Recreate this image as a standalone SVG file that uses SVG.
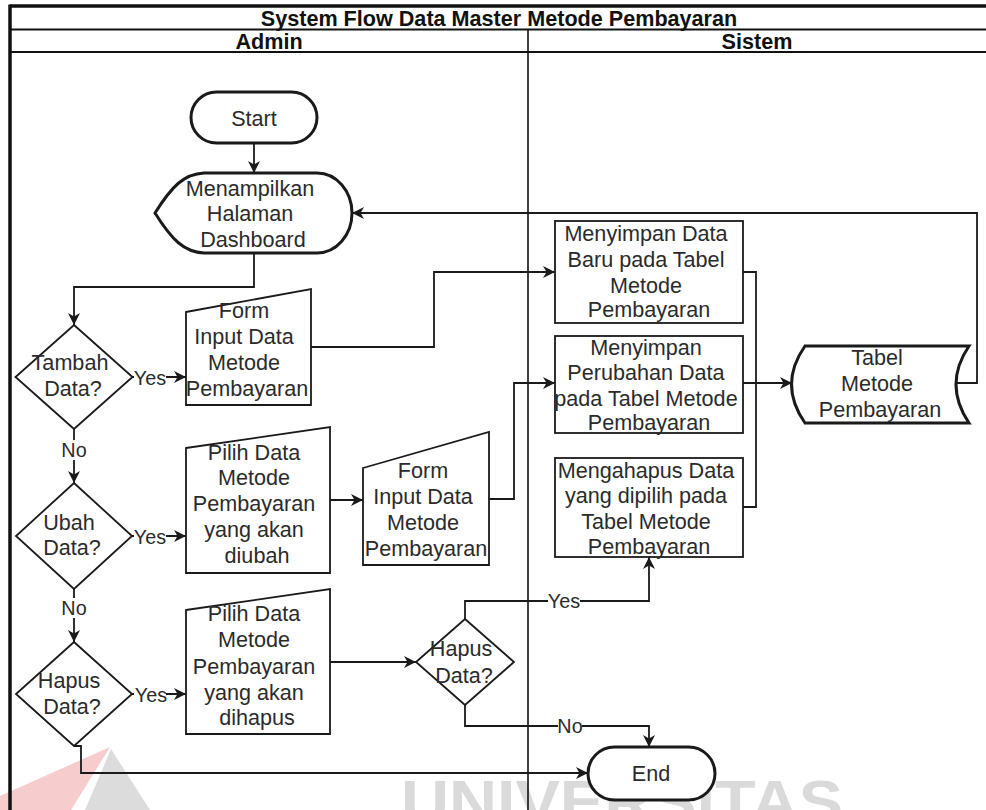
<svg xmlns="http://www.w3.org/2000/svg" width="986" height="810" viewBox="0 0 986 810">
  <defs>
    <style>
      .t { font-family: "Liberation Sans", Arial, sans-serif; font-size: 21.6px; fill: #2b2b2b; text-anchor: middle; }
      .h { font-weight: bold; fill: #111; }
      .lbl { font-size: 19.8px; }
      .sh { fill: #fff; stroke: #1a1a1a; stroke-width: 1.8; }
      .thick { stroke-width: 3; }
      .edge { fill: none; stroke: #1a1a1a; stroke-width: 1.8; }
      .frame { fill: none; stroke: #111; }
      .wm { font-family: "Liberation Sans", Arial, sans-serif; font-weight: bold; font-size: 62px; fill: #dadada; }
    </style>
    <marker id="arrow" markerUnits="userSpaceOnUse" markerWidth="13" markerHeight="12" refX="12" refY="6" orient="auto">
      <path d="M0,0 L12,6 L0,12 L3.5,6 Z" fill="#1a1a1a"/>
    </marker>
  </defs>

  <rect x="0" y="0" width="986" height="810" fill="#fff"/>

  <!-- background watermark -->
  <g id="watermark">
    <polygon points="0,796 110,747 71,810 0,810" fill="#f7cccc"/>
    <polygon points="111,749 150,810 85,810" fill="#dcdcdc"/>
    <text class="wm" x="401" y="823" textLength="442" lengthAdjust="spacingAndGlyphs">UNIVERSITAS</text>
  </g>

  <!-- pool frame with title and lane headers -->
  <g id="pool">
    <line class="frame" x1="10" y1="6" x2="990" y2="6" stroke-width="3.5"/>
    <line class="frame" x1="10" y1="4.5" x2="10" y2="810" stroke-width="3.5"/>
    <line class="frame" x1="10" y1="29.5" x2="990" y2="29.5" stroke-width="2"/>
    <line class="frame" x1="10" y1="52" x2="990" y2="52" stroke-width="2"/>
    <line class="frame" x1="528" y1="29.5" x2="528" y2="810" stroke-width="1.6"/>
    <text class="t h" x="499" y="25.5">System Flow Data Master Metode Pembayaran</text>
    <text class="t h" x="269" y="48.5">Admin</text>
    <text class="t h" x="757" y="48.5">Sistem</text>
  </g>

  <!-- connectors -->
  <g id="connectors">
    <path class="edge" d="M254,143 L254,173" marker-end="url(#arrow)"/>
    <path class="edge" d="M254,253 L254,287 L74,287 L74,325" marker-end="url(#arrow)"/>
    <path class="edge" d="M132.5,377 L186,377" marker-end="url(#arrow)"/>
    <path class="edge" d="M311,347 L434,347 L434,272 L555,272" marker-end="url(#arrow)"/>
    <path class="edge" d="M74,429 L74,483" marker-end="url(#arrow)"/>
    <path class="edge" d="M132,536 L186,536" marker-end="url(#arrow)"/>
    <path class="edge" d="M330,500 L363,500" marker-end="url(#arrow)"/>
    <path class="edge" d="M489,499 L514,499 L514,383 L555,383" marker-end="url(#arrow)"/>
    <path class="edge" d="M74,589 L74,642" marker-end="url(#arrow)"/>
    <path class="edge" d="M132,694 L186,694" marker-end="url(#arrow)"/>
    <path class="edge" d="M330,662 L416,662" marker-end="url(#arrow)"/>
    <path class="edge" d="M465,619 L465,601 L649,601 L649,557" marker-end="url(#arrow)"/>
    <path class="edge" d="M465,705 L465,726 L649,726 L649,747" marker-end="url(#arrow)"/>
    <path class="edge" d="M74,746 L81,746 L81,773 L588,773" marker-end="url(#arrow)"/>
    <path class="edge" d="M743,272 L756,272 L756,383"/>
    <path class="edge" d="M743,507 L756,507 L756,383"/>
    <path class="edge" d="M743,383 L792,383" stroke-width="2.4" marker-end="url(#arrow)"/>
    <path class="edge" d="M957,383 L977,383 L977,213 L352,213" marker-end="url(#arrow)"/>

    <!-- edge labels -->
    <rect x="134" y="367" width="32" height="20" fill="#fff"/>
    <text class="t lbl" x="150" y="384.5">Yes</text>
    <rect x="62" y="440" width="24" height="20" fill="#fff"/>
    <text class="t lbl" x="74" y="457">No</text>
    <rect x="134" y="527" width="32" height="20" fill="#fff"/>
    <text class="t lbl" x="150" y="543.5">Yes</text>
    <rect x="62" y="598" width="24" height="20" fill="#fff"/>
    <text class="t lbl" x="74" y="615">No</text>
    <rect x="134" y="685" width="32" height="20" fill="#fff"/>
    <text class="t lbl" x="151" y="702">Yes</text>
    <rect x="548" y="591" width="32" height="20" fill="#fff"/>
    <text class="t lbl" x="564" y="608">Yes</text>
    <rect x="558" y="716" width="24" height="20" fill="#fff"/>
    <text class="t lbl" x="570" y="733">No</text>
  </g>

  <!-- nodes -->
  <g id="start">
    <rect class="sh thick" x="191" y="92" width="126" height="51" rx="25.5"/>
    <text class="t" x="254" y="125.5">Start</text>
  </g>

  <g id="tampil-dashboard">
    <path class="sh thick" d="M155,213 C172,186 184,174 204,173 L317,173 A35,40 0 0 1 317,253 L204,253 C184,252 172,240 155,213 Z"/>
    <text class="t">
      <tspan x="253" y="195.5">Menampilkan</tspan>
      <tspan x="253" y="221">Halaman</tspan>
      <tspan x="253" y="246.5">Dashboard</tspan>
    </text>
  </g>

  <g id="tambah-data">
    <polygon class="sh" points="74,325 132.5,377 74,429 15.5,377"/>
    <text class="t">
      <tspan x="73" y="369.5">Tambah</tspan>
      <tspan x="73" y="395.5">Data?</tspan>
    </text>
  </g>

  <g id="form-tambah">
    <polygon class="sh" points="186,312 311,289 311,405 186,405"/>
    <text class="t">
      <tspan x="247" y="317.5">Form</tspan>
      <tspan x="247" y="343.5">Input Data</tspan>
      <tspan x="247" y="369.5">Metode</tspan>
      <tspan x="247" y="395.5">Pembayaran</tspan>
    </text>
  </g>

  <g id="ubah-data">
    <polygon class="sh" points="74,483 132,536 74,589 16,536"/>
    <text class="t">
      <tspan x="72" y="529.5">Ubah</tspan>
      <tspan x="72" y="554.5">Data?</tspan>
    </text>
  </g>

  <g id="pilih-ubah">
    <polygon class="sh" points="186,448 330,427 330,573 186,573"/>
    <text class="t">
      <tspan x="257" y="459.5">Pilih Data</tspan>
      <tspan x="257" y="484.5">Metode</tspan>
      <tspan x="257" y="511">Pembayaran</tspan>
      <tspan x="257" y="537">yang akan</tspan>
      <tspan x="257" y="562.5">diubah</tspan>
    </text>
  </g>

  <g id="form-ubah">
    <polygon class="sh" points="363,468 489,432 489,565 363,565"/>
    <text class="t">
      <tspan x="426" y="477.5">Form</tspan>
      <tspan x="426" y="504">Input Data</tspan>
      <tspan x="426" y="529.5">Metode</tspan>
      <tspan x="426" y="555.5">Pembayaran</tspan>
    </text>
  </g>

  <g id="hapus-data">
    <polygon class="sh" points="74,642 132,694 74,746 16,694"/>
    <text class="t">
      <tspan x="72" y="687.5">Hapus</tspan>
      <tspan x="72" y="714">Data?</tspan>
    </text>
  </g>

  <g id="pilih-hapus">
    <polygon class="sh" points="186,610 330,589 330,734 186,734"/>
    <text class="t">
      <tspan x="257" y="621">Pilih Data</tspan>
      <tspan x="257" y="646.5">Metode</tspan>
      <tspan x="257" y="673.5">Pembayaran</tspan>
      <tspan x="257" y="699.5">yang akan</tspan>
      <tspan x="257" y="724.5">dihapus</tspan>
    </text>
  </g>

  <g id="konfirmasi-hapus">
    <polygon class="sh" points="465,619 514,662 465,705 416,662"/>
    <text class="t">
      <tspan x="464" y="656">Hapus</tspan>
      <tspan x="464" y="682.5">Data?</tspan>
    </text>
  </g>

  <g id="simpan-baru">
    <rect class="sh" x="555" y="221" width="188" height="102"/>
    <text class="t">
      <tspan x="649" y="241">Menyimpan Data</tspan>
      <tspan x="649" y="267">Baru pada Tabel</tspan>
      <tspan x="649" y="292.5">Metode</tspan>
      <tspan x="649" y="317">Pembayaran</tspan>
    </text>
  </g>

  <g id="simpan-ubah">
    <rect class="sh" x="555" y="336" width="188" height="97"/>
    <text class="t">
      <tspan x="649" y="354.5">Menyimpan</tspan>
      <tspan x="649" y="379.5">Perubahan Data</tspan>
      <tspan x="649" y="405.5">pada Tabel Metode</tspan>
      <tspan x="649" y="430">Pembayaran</tspan>
    </text>
  </g>

  <g id="hapus-terpilih">
    <rect class="sh" x="555" y="458" width="188" height="99"/>
    <text class="t">
      <tspan x="649" y="477.5">Mengahapus Data</tspan>
      <tspan x="649" y="502.5">yang dipilih pada</tspan>
      <tspan x="649" y="529">Tabel Metode</tspan>
      <tspan x="649" y="554">Pembayaran</tspan>
    </text>
  </g>

  <g id="tabel-metode">
    <path class="sh thick" d="M805,346 L969,346 Q943,384.5 969,423 L805,423 Q778,384.5 805,346 Z"/>
    <text class="t">
      <tspan x="880" y="364.5">Tabel</tspan>
      <tspan x="880" y="390.5">Metode</tspan>
      <tspan x="880" y="417">Pembayaran</tspan>
    </text>
  </g>

  <g id="end">
    <rect class="sh thick" x="588" y="747" width="127" height="53" rx="26.5"/>
    <text class="t" x="651" y="780.5">End</text>
  </g>
</svg>
